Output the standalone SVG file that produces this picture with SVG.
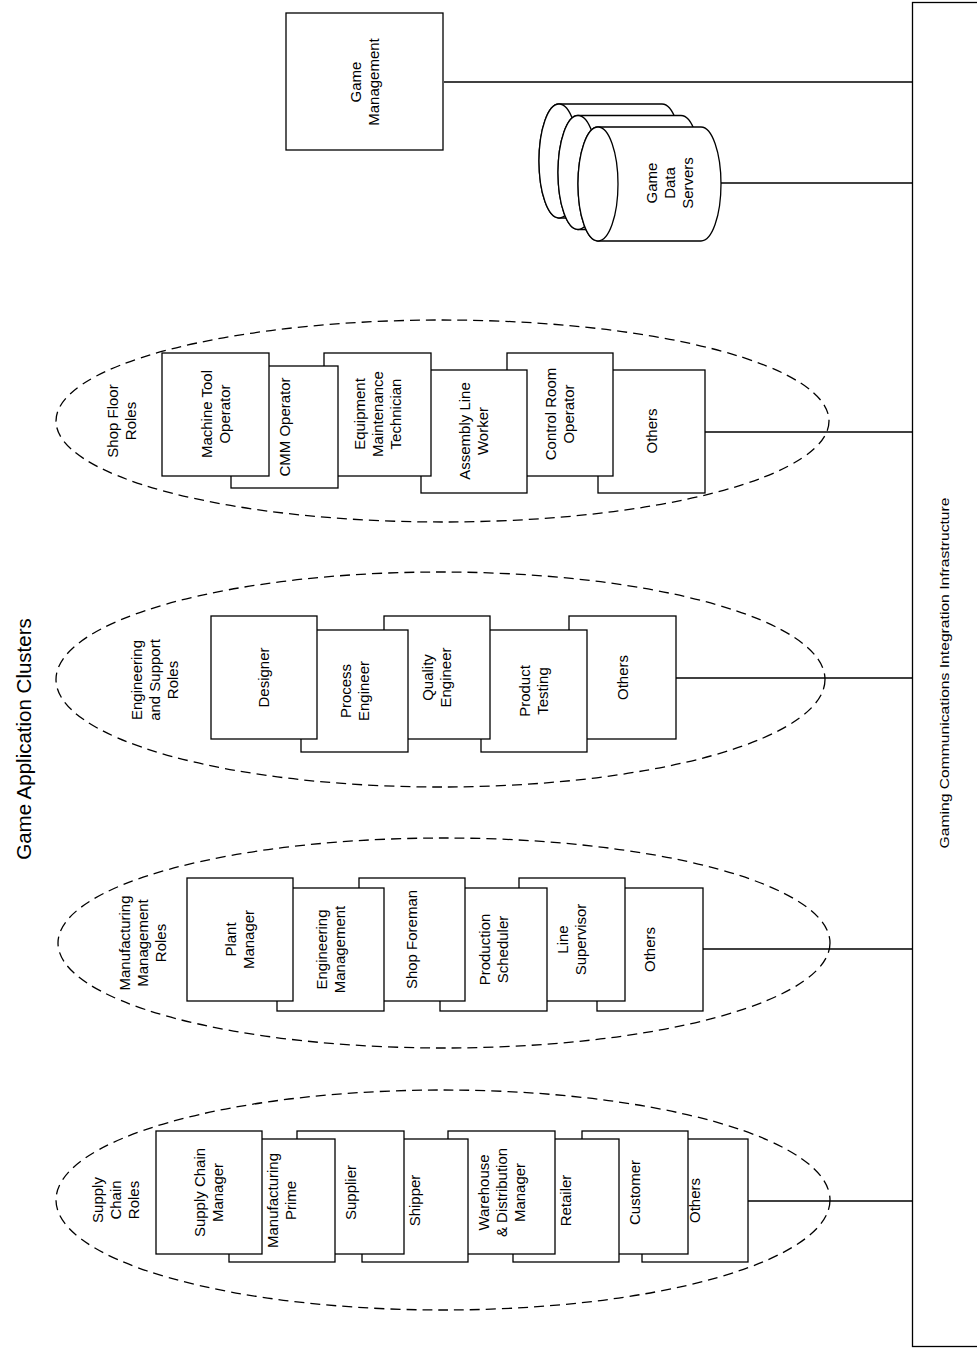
<svg xmlns="http://www.w3.org/2000/svg" width="977" height="1350" viewBox="0 0 977 1350">
<style>
.box{fill:#fff;stroke:#000;stroke-width:1.3}
.cyl{fill:#fff;stroke:#000;stroke-width:1.3}
.clu{fill:none;stroke:#000;stroke-width:1.3;stroke-dasharray:10 6}
.con{fill:none;stroke:#000;stroke-width:1.3}
text{font-family:"Liberation Sans",Arial,sans-serif;font-size:15px;fill:#000;text-anchor:middle}
.title{font-size:20.5px}
.infra{font-size:12.5px}
</style>
<rect width="977" height="1350" fill="#fff"/>

<g id="title"><text class="title" transform="translate(24,739) rotate(-90)" y="7">Game Application Clusters</text></g>

<g id="infrastructure">
<rect class="box" x="912.5" y="2.5" width="80" height="1344"/>
<text class="infra" transform="translate(945,673) rotate(-90)" y="4" textLength="351" lengthAdjust="spacingAndGlyphs">Gaming Communications Integration Infrastructure</text>
</g>

<g id="connectors">
<line class="con" x1="444" y1="82" x2="912" y2="82"/>
<line class="con" x1="721" y1="183" x2="912" y2="183"/>
<line class="con" x1="705" y1="432" x2="912" y2="432"/>
<line class="con" x1="676" y1="678" x2="912" y2="678"/>
<line class="con" x1="703" y1="949" x2="912" y2="949"/>
<line class="con" x1="748" y1="1201" x2="912" y2="1201"/>
</g>

<g id="game-management">
<rect class="box" x="286" y="13" width="157" height="137"/>
<text transform="translate(364.5,82) rotate(-90)"><tspan x="0" y="-4">Game</tspan><tspan x="0" y="14">Management</tspan></text>
</g>

<g id="game-data-servers">
<path class="cyl" d="M559,104 L662,104 A20,57 0 0 1 662,218 L559,218 A20,57 0 0 1 559,104 Z"/>
<ellipse class="cyl" cx="559" cy="161" rx="20" ry="57"/>
<path class="cyl" d="M578,115.5 L681,115.5 A20,57 0 0 1 681,229.5 L578,229.5 A20,57 0 0 1 578,115.5 Z"/>
<ellipse class="cyl" cx="578" cy="172.5" rx="20" ry="57"/>
<path class="cyl" d="M598,127 L701,127 A20,57 0 0 1 701,241 L598,241 A20,57 0 0 1 598,127 Z"/>
<ellipse class="cyl" cx="598" cy="184" rx="20" ry="57"/>
<text transform="translate(670,183) rotate(-90)"><tspan x="0" y="-13">Game</tspan><tspan x="0" y="5">Data</tspan><tspan x="0" y="23">Servers</tspan></text>
</g>

<!-- Shop Floor -->
<g id="shop-floor-roles">
<ellipse class="clu" cx="442.5" cy="421" rx="386.5" ry="101"/>
<text transform="translate(122,421) rotate(-90)"><tspan x="0" y="-4">Shop Floor</tspan><tspan x="0" y="14">Roles</tspan></text>
</g>
<g id="sf-others"><rect class="box" x="598" y="370" width="107" height="123"/><text transform="translate(651.5,431) rotate(-90)" y="5">Others</text></g>
<g id="sf-control-room-operator"><rect class="box" x="507" y="353" width="106" height="123"/><text transform="translate(560,414) rotate(-90)"><tspan x="0" y="-4">Control Room</tspan><tspan x="0" y="14">Operator</tspan></text></g>
<g id="sf-assembly-line-worker"><rect class="box" x="421" y="370" width="106" height="123"/><text transform="translate(474,431) rotate(-90)"><tspan x="0" y="-4">Assembly Line</tspan><tspan x="0" y="14">Worker</tspan></text></g>
<g id="sf-equipment-maintenance-technician"><rect class="box" x="324" y="353" width="107" height="123"/><text transform="translate(377.5,414) rotate(-90)"><tspan x="0" y="-13">Equipment</tspan><tspan x="0" y="5">Maintenance</tspan><tspan x="0" y="23">Technician</tspan></text></g>
<g id="sf-cmm-operator"><rect class="box" x="231" y="366" width="107" height="122"/><text transform="translate(284.5,427) rotate(-90)" y="5">CMM Operator</text></g>
<g id="sf-machine-tool-operator"><rect class="box" x="162" y="353" width="107" height="123"/><text transform="translate(215.5,414) rotate(-90)"><tspan x="0" y="-4">Machine Tool</tspan><tspan x="0" y="14">Operator</tspan></text></g>

<!-- Engineering -->
<g id="engineering-support-roles">
<ellipse class="clu" cx="440.5" cy="679.5" rx="384.5" ry="107.5"/>
<text transform="translate(155,680) rotate(-90)"><tspan x="0" y="-13">Engineering</tspan><tspan x="0" y="5">and Support</tspan><tspan x="0" y="23">Roles</tspan></text>
</g>
<g id="es-others"><rect class="box" x="569" y="616" width="107" height="123"/><text transform="translate(622.5,677.5) rotate(-90)" y="5">Others</text></g>
<g id="es-product-testing"><rect class="box" x="481" y="630" width="106" height="122"/><text transform="translate(534,691) rotate(-90)"><tspan x="0" y="-4">Product</tspan><tspan x="0" y="14">Testing</tspan></text></g>
<g id="es-quality-engineer"><rect class="box" x="384" y="616" width="106" height="123"/><text transform="translate(437,677.5) rotate(-90)"><tspan x="0" y="-4">Quality</tspan><tspan x="0" y="14">Engineer</tspan></text></g>
<g id="es-process-engineer"><rect class="box" x="301" y="630" width="107" height="122"/><text transform="translate(354.5,691) rotate(-90)"><tspan x="0" y="-4">Process</tspan><tspan x="0" y="14">Engineer</tspan></text></g>
<g id="es-designer"><rect class="box" x="211" y="616" width="106" height="123"/><text transform="translate(264,677.5) rotate(-90)" y="5">Designer</text></g>

<!-- Manufacturing -->
<g id="manufacturing-management-roles">
<ellipse class="clu" cx="444" cy="943" rx="386" ry="105"/>
<text transform="translate(143,943) rotate(-90)"><tspan x="0" y="-13">Manufacturing</tspan><tspan x="0" y="5">Management</tspan><tspan x="0" y="23">Roles</tspan></text>
</g>
<g id="mm-others"><rect class="box" x="597" y="888" width="106" height="123"/><text transform="translate(650,949.5) rotate(-90)" y="5">Others</text></g>
<g id="mm-line-supervisor"><rect class="box" x="519" y="878" width="106" height="123"/><text transform="translate(572,939.5) rotate(-90)"><tspan x="0" y="-4">Line</tspan><tspan x="0" y="14">Supervisor</tspan></text></g>
<g id="mm-production-scheduler"><rect class="box" x="440" y="888" width="107" height="123"/><text transform="translate(493.5,949.5) rotate(-90)"><tspan x="0" y="-4">Production</tspan><tspan x="0" y="14">Scheduler</tspan></text></g>
<g id="mm-shop-foreman"><rect class="box" x="359" y="878" width="106" height="123"/><text transform="translate(412,939.5) rotate(-90)" y="5">Shop Foreman</text></g>
<g id="mm-engineering-management"><rect class="box" x="277" y="888" width="107" height="123"/><text transform="translate(330.5,949.5) rotate(-90)"><tspan x="0" y="-4">Engineering</tspan><tspan x="0" y="14">Management</tspan></text></g>
<g id="mm-plant-manager"><rect class="box" x="187" y="878" width="106" height="123"/><text transform="translate(240,939.5) rotate(-90)"><tspan x="0" y="-4">Plant</tspan><tspan x="0" y="14">Manager</tspan></text></g>

<!-- Supply Chain -->
<g id="supply-chain-roles">
<ellipse class="clu" cx="443" cy="1200" rx="387" ry="110"/>
<text transform="translate(116,1200) rotate(-90)"><tspan x="0" y="-13">Supply</tspan><tspan x="0" y="5">Chain</tspan><tspan x="0" y="23">Roles</tspan></text>
</g>
<g id="sc-others"><rect class="box" x="642" y="1139" width="106" height="123"/><text transform="translate(695,1200.5) rotate(-90)" y="5">Others</text></g>
<g id="sc-customer"><rect class="box" x="582" y="1131" width="106" height="123"/><text transform="translate(635,1192.5) rotate(-90)" y="5">Customer</text></g>
<g id="sc-retailer"><rect class="box" x="513" y="1139" width="106" height="123"/><text transform="translate(566,1200.5) rotate(-90)" y="5">Retailer</text></g>
<g id="sc-warehouse-distribution-manager"><rect class="box" x="448" y="1131" width="107" height="123"/><text transform="translate(501.5,1192.5) rotate(-90)"><tspan x="0" y="-13">Warehouse</tspan><tspan x="0" y="5">&amp; Distribution</tspan><tspan x="0" y="23">Manager</tspan></text></g>
<g id="sc-shipper"><rect class="box" x="362" y="1139" width="106" height="123"/><text transform="translate(415,1200.5) rotate(-90)" y="5">Shipper</text></g>
<g id="sc-supplier"><rect class="box" x="297" y="1131" width="107" height="123"/><text transform="translate(350.5,1192.5) rotate(-90)" y="5">Supplier</text></g>
<g id="sc-manufacturing-prime"><rect class="box" x="229" y="1139" width="106" height="123"/><text transform="translate(282,1200.5) rotate(-90)"><tspan x="0" y="-4">Manufacturing</tspan><tspan x="0" y="14">Prime</tspan></text></g>
<g id="sc-supply-chain-manager"><rect class="box" x="156" y="1131" width="106" height="123"/><text transform="translate(209,1192.5) rotate(-90)"><tspan x="0" y="-4">Supply Chain</tspan><tspan x="0" y="14">Manager</tspan></text></g>
</svg>
